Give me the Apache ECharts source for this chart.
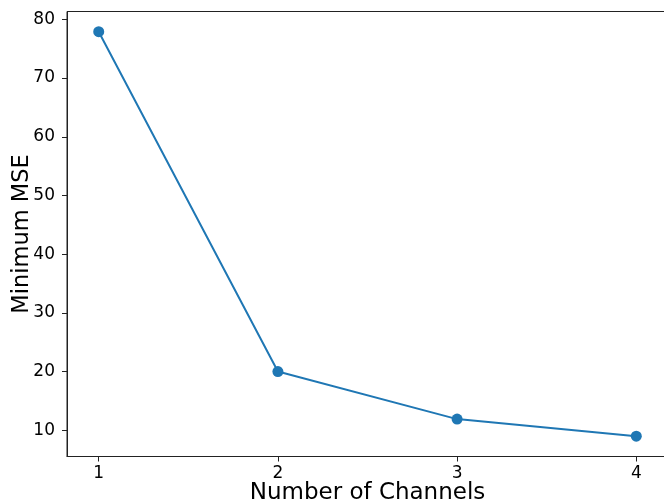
<!DOCTYPE html>
<html>
<head>
<meta charset="utf-8">
<script src="https://cdn.jsdelivr.net/npm/echarts@6/dist/echarts.min.js"></script>
<style>html,body{margin:0;padding:0;background:#fff}#c{width:664px;height:504px}</style>
</head>
<body>
<div id="c"></div>
<script>
const channels = [1, 2, 3, 4];
const minMSE = [77.9, 20.0, 11.9, 9.0];
const xTicks = [1, 2, 3, 4];
const yTicks = [10, 20, 30, 40, 50, 60, 70, 80];

const chart = echarts.init(document.getElementById('c'), null, {renderer: 'canvas'});
const font = 'DejaVu Sans';
chart.setOption({
  animation: false,
  grid: {left: 67, top: 11.5, width: 601, height: 445, outerBoundsMode: 'none', containLabel: false, show: true, borderColor: '#222', borderWidth: 1, backgroundColor: 'transparent'},
  xAxis: {
    type: 'value', min: 0.823, max: 4.177,
    name: 'Number of Channels', nameLocation: 'middle', nameGap: 25, nameMoveOverlap: false,
    nameTextStyle: {fontFamily: font, fontSize: 23, color: '#000'},
    axisLine: {show: true, lineStyle: {color: '#222', width: 1}},
    axisTick: {show: true, length: 5, customValues: xTicks, lineStyle: {color: '#222'}},
    axisLabel: {customValues: xTicks, fontFamily: font, fontSize: 17, color: '#000', margin: 9},
    splitLine: {show: false}
  },
  yAxis: {
    type: 'value', min: 5.53, max: 81.34,
    name: 'Minimum MSE', nameLocation: 'middle', nameGap: 33, nameMoveOverlap: false,
    nameTextStyle: {fontFamily: font, fontSize: 22.5, color: '#000'},
    axisLine: {show: true, lineStyle: {color: '#222', width: 1}},
    axisTick: {show: true, length: 5, customValues: yTicks, lineStyle: {color: '#222'}},
    axisLabel: {customValues: yTicks, fontFamily: font, fontSize: 17, color: '#000', margin: 12},
    splitLine: {show: false}
  },
  series: [{
    type: 'line',
    data: channels.map((c, i) => [c, minMSE[i]]),
    symbol: 'circle', symbolSize: 11,
    lineStyle: {color: '#1f77b4', width: 2},
    itemStyle: {color: '#1f77b4'}
  }]
});
</script>
</body>
</html>
